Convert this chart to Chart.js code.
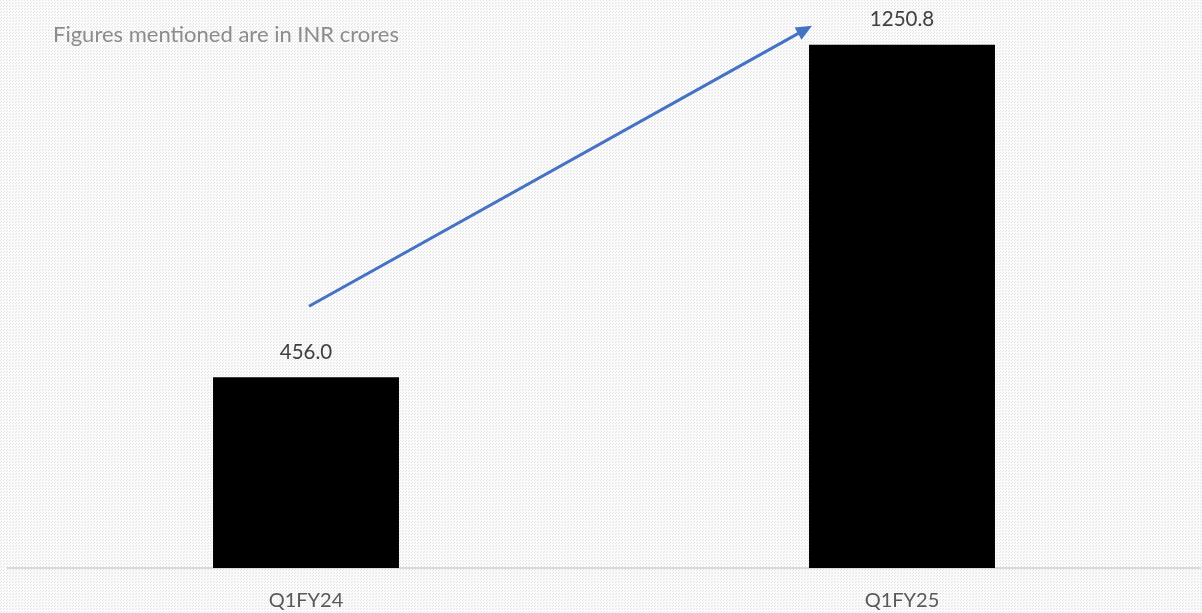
<!DOCTYPE html>
<html>
<head>
<meta charset="utf-8">
<script src="https://cdn.jsdelivr.net/npm/chart.js@4.4.1/dist/chart.umd.min.js"></script>
<style>
  html, body { margin: 0; padding: 0; background: #f7f7f7; }
  #wrap { width: 1202px; height: 613px; position: relative; }
</style>
</head>
<body>
<div id="wrap"><canvas id="revChart"></canvas></div>
<script>
var categories = ['Q1FY24', 'Q1FY25'];
var revenue = [456.0, 1250.8];
var noteText = 'Figures mentioned are in INR crores';

var FONT = 'Lato, "Open Sans", sans-serif';

// dotted light grey backdrop like the slide
function makePattern() {
    var c = document.createElement('canvas');
    c.width = 3; c.height = 3;
    var g = c.getContext('2d');
    g.fillStyle = '#fbfbfb';
    g.fillRect(0, 0, 3, 3);
    g.fillStyle = '#e4e4e4';
    g.fillRect(0, 0, 1, 1);
    g.fillRect(1, 2, 1, 1);
    return g.createPattern(c, 'repeat');
}

var backdrop = {
    id: 'backdrop',
    beforeDraw: function (chart) {
        var ctx = chart.ctx;
        ctx.save();
        ctx.fillStyle = makePattern();
        ctx.fillRect(0, 0, chart.width, chart.height);
        ctx.restore();
    }
};

var extras = {
    id: 'extras',
    afterDatasetsDraw: function (chart) {
        var ctx = chart.ctx;
        var meta = chart.getDatasetMeta(0);
        ctx.save();

        // value labels
        ctx.fillStyle = '#404040';
        ctx.font = '20.5px ' + FONT;
        ctx.textAlign = 'center';
        ctx.textBaseline = 'middle';
        meta.data.forEach(function (bar, i) {
            ctx.fillText(revenue[i].toFixed(1), bar.x, bar.y - 25);
        });

        // note
        ctx.fillStyle = '#8c8c8c';
        ctx.font = '22px ' + FONT;
        ctx.textAlign = 'left';
        ctx.fillText(noteText, 53, 35);

        // growth arrow
        var a = meta.data[0], b = meta.data[1];
        var x1 = a.x + 3, y1 = a.y - 71;
        var x2 = b.x - b.width / 2 + 3, y2 = b.y - 19;
        var ang = Math.atan2(y2 - y1, x2 - x1);
        ctx.strokeStyle = '#4472c4';
        ctx.fillStyle = '#4472c4';
        ctx.lineWidth = 3;
        ctx.beginPath();
        ctx.moveTo(x1, y1);
        ctx.lineTo(x2 - 12 * Math.cos(ang), y2 - 12 * Math.sin(ang));
        ctx.stroke();
        ctx.beginPath();
        ctx.moveTo(x2, y2);
        ctx.lineTo(x2 - 16 * Math.cos(ang) + 7 * Math.sin(ang), y2 - 16 * Math.sin(ang) - 7 * Math.cos(ang));
        ctx.lineTo(x2 - 16 * Math.cos(ang) - 7 * Math.sin(ang), y2 - 16 * Math.sin(ang) + 7 * Math.cos(ang));
        ctx.closePath();
        ctx.fill();
        ctx.restore();
    }
};

var ctxBar = document.getElementById('revChart').getContext('2d');
var revChart = new Chart(ctxBar, {
    type: 'bar',
    data: {
        labels: categories,
        datasets: [{
            label: 'Revenue',
            data: revenue,
            backgroundColor: '#000000',
            categoryPercentage: 1.0,
            barPercentage: 0.312
        }]
    },
    options: {
        responsive: true,
        maintainAspectRatio: false,
        animation: false,
        layout: { padding: { left: 8, right: 2, top: 0, bottom: 0 } },
        plugins: {
            legend: { display: false },
            tooltip: { enabled: false }
        },
        scales: {
            x: {
                grid: { display: false, drawTicks: false },
                border: { color: '#d9d9d9', width: 2 },
                ticks: { color: '#595959', font: { family: FONT, size: 20 }, padding: 21 },
                afterFit: function (scale) { scale.height = 45; }
            },
            y: {
                display: false,
                min: 0,
                max: 1358
            }
        }
    },
    plugins: [backdrop, extras]
});
</script>
</body>
</html>
